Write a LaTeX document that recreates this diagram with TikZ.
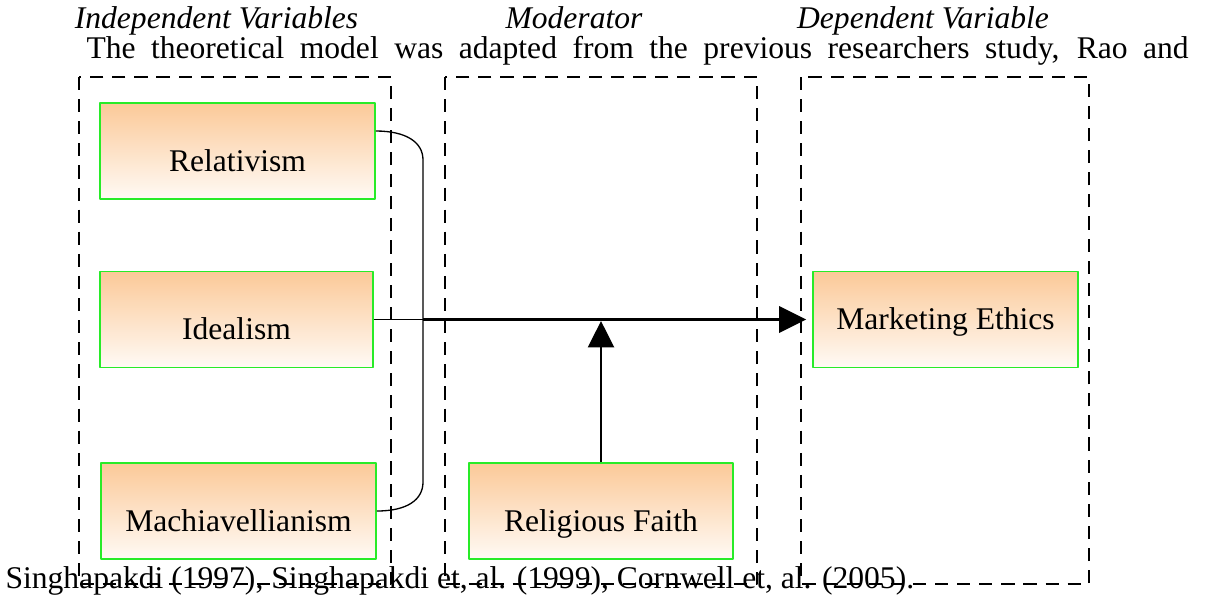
\documentclass[tikz,border=0pt]{standalone}
\usepackage{fontspec}
\setmainfont{Liberation Serif}
\usepackage{xcolor}
\usepackage{tikz}
\usetikzlibrary{arrows.meta, calc}

\definecolor{boxtop}{RGB}{251,201,152}
\definecolor{boxbot}{RGB}{255,250,245}
\definecolor{boxedge}{RGB}{40,235,40}

\begin{document}
\fontsize{12}{14.4}\selectfont
\begin{tikzpicture}[x=0.38pt, y=-0.38pt, line join=round,
	varbox/.style={draw=boxedge, line width=0.6pt, top color=boxtop, bottom color=boxbot,
		minimum height=36.5pt, inner sep=0pt, text height=15.5pt, text depth=0pt},
	grpbox/.style={dash pattern=on 5pt off 3.4pt, line width=0.65pt}]
				\useasboundingbox (0,0) rectangle (1213,596);
				% dashed groups
				\draw[grpbox] (79,77) rectangle (391,584);
				\draw[grpbox] (445,77) rectangle (757,584);
				\draw[grpbox] (801,77) rectangle (1089,584);
				% headings and text
				\node[anchor=base, font=\itshape] (hind) at (216.5,28) {Independent Variables};
				\node[anchor=base, font=\itshape] (hmod) at (574,28) {Moderator};
				\node[anchor=base, font=\itshape] (hdep) at (923,28) {Dependent Variable};
				\node[anchor=base west, inner sep=0pt] (intro) at (86,58) {\spaceskip=0.25em plus 1em minus 0.1em\makebox[418.8pt][s]{The theoretical model was adapted from the previous researchers study, Rao and}};
				\node[anchor=base west, inner sep=0pt] (cite) at (5,588) {Singhapakdi (1997), Singhapakdi et, al. (1999), Cornwell et, al. (2005).};
				% variables
				\node[varbox, minimum width=104.5pt] (rel) at (237.5,151) {Relativism};
				\node[varbox, minimum width=103.7pt] (ideal) at (236.5,319.5) {Idealism};
				\node[varbox, minimum width=104.5pt] (machi) at (238.5,511) {Machiavellianism};
				\node[varbox, minimum width=100.3pt] (relig) at (601,511) {Religious Faith};
				\node[varbox, minimum width=100.7pt, text height=8pt, text depth=0.5pt] (mkt) at (945.5,319.5) {Marketing Ethics};
				% connectors
				\coordinate (brk) at (423,319.5);
				\draw[line width=0.5pt] ([yshift=7.6pt]rel.east) .. controls +(30,0) and +(0,-18) .. (423,160)
					-- (423,482) .. controls +(0,18) and +(30,0) .. (machi.east);
				\draw[line width=0.5pt] (ideal.east) -- (ideal.east -| brk);
				\draw[line width=1pt, -{Triangle[length=10.3pt,width=10pt]}, shorten >=2.3pt] (ideal.east -| brk) -- (mkt.west);
				\draw[line width=0.5pt, -{Triangle[length=10pt,width=10pt]}, shorten >=0.6pt] (relig.north) -- (relig.north |- brk);
			\end{tikzpicture}
\end{document}
